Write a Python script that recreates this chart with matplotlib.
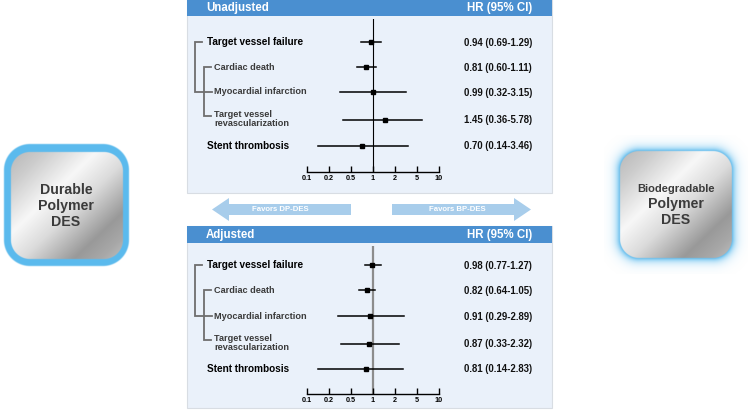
import numpy as np
import matplotlib
matplotlib.use("Agg")
import matplotlib.pyplot as plt
from matplotlib.patches import Rectangle, FancyArrow, Polygon

plt.rcParams['font.family'] = ['Liberation Sans', 'DejaVu Sans']

# ---------------- data ----------------
outcomes = ["Target vessel failure", "Cardiac death", "Myocardial infarction",
            "Target vessel\nrevascularization", "Stent thrombosis"]
unadj_hr = [0.94, 0.81, 0.99, 1.45, 0.70]
unadj_lo = [0.69, 0.60, 0.32, 0.36, 0.14]
unadj_hi = [1.29, 1.11, 3.15, 5.78, 3.46]
adj_hr = [0.98, 0.82, 0.91, 0.87, 0.81]
adj_lo = [0.77, 0.64, 0.29, 0.33, 0.14]
adj_hi = [1.27, 1.05, 2.89, 2.32, 2.83]
tick_vals = [0.1, 0.2, 0.5, 1, 2, 5, 10]
tick_labels = ["0.1", "0.2", "0.5", "1", "2", "5", "10"]
panel_titles = ["Unadjusted", "Adjusted"]
left_label = "Durable\nPolymer\nDES"
right_label = ["Biodegradable", "Polymer\nDES"]
arrow_labels = ["Favors DP-DES", "Favors BP-DES"]

W, H = 749, 411
fig = plt.figure(figsize=(W / 100, H / 100), dpi=100)
bg = fig.add_axes([0, 0, 1, 1])
bg.set_xlim(0, W)
bg.set_ylim(H, 0)
bg.axis('off')

HEADER = '#4a8fd0'
PANEL = '#eaf1fa'
EDGE = '#d8dde3'
ARROW = '#a8cdeb'

# rank-based HR axis (equal spacing between tick values, log-interp between)
logk = np.log10(tick_vals)
idx = np.arange(len(tick_vals), dtype=float)
def fwd(v):
    v = np.asarray(v, dtype=float)
    return np.interp(np.log10(np.clip(v, 1e-6, None)), logk, idx)
def inv(r):
    return 10 ** np.interp(np.asarray(r, dtype=float), idx, logk)

def panel(top, bottom, title, hr, lo, hi, row_y, axis_y, vline_color, vline_lw):
    bg.add_patch(Rectangle((187, top), 552 - 187, bottom - top, facecolor=PANEL,
                           edgecolor=EDGE, lw=0.8, zorder=1))
    bg.add_patch(Rectangle((187, top), 552 - 187, 17, facecolor=HEADER,
                           edgecolor='none', zorder=2))
    bg.text(206, top + 8.5, title, color='white', fontsize=8.3, fontweight='bold',
            va='center', ha='left', zorder=3)
    bg.text(532, top + 8.5, "HR (95% CI)", color='white', fontsize=8.3,
            fontweight='bold', va='center', ha='right', zorder=3)
    # brackets
    gc = '#6e6e6e'
    lw = 1.3
    y0, y1, y2, y3 = row_y[0], row_y[1], row_y[2], row_y[3] - 3
    bg.plot([202, 195, 195, 212], [y0, y0, y2, y2], color=gc, lw=lw, zorder=3,
            solid_joinstyle='miter')
    bg.plot([211, 204, 204, 211], [y1, y1, y3, y3], color=gc, lw=lw, zorder=3,
            solid_joinstyle='miter')
    # labels
    for i, (name, y) in enumerate(zip(outcomes, row_y)):
        main = i in (0, 4)
        x = 207 if main else 214
        col = 'black' if main else '#3a3a3a'
        fs = 7.2 if main else 6.6
        bg.text(x, y, name, fontsize=fs, fontweight='bold', color=col,
                va='center', ha='left', zorder=3, linespacing=1.05)
        bg.text(532, y + (1 if i < 4 else 0), f"{hr[i]:.2f} ({lo[i]:.2f}-{hi[i]:.2f})",
                fontsize=6.9, fontweight='bold', color='#111111',
                va='center', ha='right', zorder=3)
    # forest axes
    ax_top = top + 20
    ax = fig.add_axes([307 / W, 1 - axis_y / H, (439 - 307) / W, (axis_y - ax_top) / H])
    ax.set_xscale('function', functions=(fwd, inv))
    ax.set_xlim(0.1, 10)
    ax.set_ylim(axis_y, ax_top)
    ax.patch.set_alpha(0)
    for s in ['top', 'right', 'left']:
        ax.spines[s].set_visible(False)
    ax.spines['bottom'].set_linewidth(1.0)
    ax.set_yticks([])
    ax.set_xticks(tick_vals)
    ax.set_xticklabels(tick_labels)
    ax.xaxis.set_minor_locator(matplotlib.ticker.NullLocator())
    ax.tick_params(axis='x', direction='in', length=4, width=1.0, labelsize=5.2, pad=2)
    for t in ax.get_xticklabels():
        t.set_fontweight('bold')
    ax.axvline(1, color=vline_color, lw=vline_lw, zorder=1)
    for i, y in enumerate(row_y):
        yy = y + (1 if i == 3 else 0)
        ax.plot([lo[i], hi[i]], [yy, yy], color='black', lw=1.1, zorder=3)
        ax.plot([hr[i]], [yy], marker='s', color='black', ms=3.2, zorder=4)
    return ax

panel(-1, 193, panel_titles[0], unadj_hr, unadj_lo, unadj_hi,
      [42, 67, 92, 119, 146], 172, 'black', 0.8)
panel(226, 408, panel_titles[1], adj_hr, adj_lo, adj_hi,
      [265, 290, 316, 343, 369], 394, '#8c8c8c', 1.6)

# arrows
bg.add_patch(Polygon([[212, 209.5], [229, 198], [229, 204], [351, 204], [351, 215],
                      [229, 215], [229, 221]], closed=True, facecolor=ARROW,
                     edgecolor='none'))
bg.add_patch(Polygon([[531, 209.5], [514, 198], [514, 204], [392, 204], [392, 215],
                      [514, 215], [514, 221]], closed=True, facecolor=ARROW,
                     edgecolor='none'))
bg.text(280, 209.5, arrow_labels[0], color='white', fontsize=5.6, fontweight='bold',
        ha='center', va='center')
bg.text(457, 209.5, arrow_labels[1], color='white', fontsize=5.6, fontweight='bold',
        ha='center', va='center')

# metallic rounded boxes
def sd_rrect(X, Y, x0, y0, x1, y1, r):
    cx, cy = (x0 + x1) / 2, (y0 + y1) / 2
    bx, by = (x1 - x0) / 2 - r, (y1 - y0) / 2 - r
    qx = np.abs(X - cx) - bx
    qy = np.abs(Y - cy) - by
    outside = np.hypot(np.maximum(qx, 0), np.maximum(qy, 0))
    inside = np.minimum(np.maximum(qx, qy), 0)
    return outside + inside - r

def metal(X, Y, x0, y0, x1, y1):
    u = ((X - x0) / (x1 - x0) + (Y - y0) / (y1 - y0)) / 2
    k = [0.0, 0.15, 0.38, 0.55, 0.78, 0.9, 1.0]
    v = [0.72, 0.80, 0.97, 0.86, 0.60, 0.66, 0.75]
    g = np.interp(u, k, v)
    return g

def draw_box(ex0, ey0, ex1, ey1, gx0, gy0, gx1, gy1, glow):
    ss = 3
    xs = np.arange(ex0, ex1, 1 / ss) + 0.5 / ss
    ys = np.arange(ey0, ey1, 1 / ss) + 0.5 / ss
    X, Y = np.meshgrid(xs, ys)
    img = np.zeros(X.shape + (4,))
    blue = np.array([0.36, 0.73, 0.93])
    d_gray = sd_rrect(X, Y, gx0, gy0, gx1, gy1, 19)
    if glow:
        d = d_gray
        a = np.clip(np.exp(-np.maximum(d, 0) / 4.0), 0, 1)
        a = np.where(d < 0, 1.0, a)
        img[..., :3] = blue
        img[..., 3] = a
    else:
        d = sd_rrect(X, Y, ex0 + 1, ey0 + 1, ex1 - 1, ey1 - 1, 26)
        img[..., :3] = blue
        img[..., 3] = np.clip(0.5 - d / 1.2, 0, 1)
    g = metal(X, Y, gx0, gy0, gx1, gy1)
    ga = np.clip(0.5 - d_gray * ss / 2, 0, 1)[..., None]
    gray = np.stack([g, g, g], axis=-1)
    img[..., :3] = img[..., :3] * (1 - ga) + gray * ga
    img[..., 3] = np.maximum(img[..., 3], ga[..., 0])
    bg.imshow(img, extent=[ex0, ex1, ey1, ey0], interpolation='bilinear', zorder=2)

draw_box(3, 143, 130, 267, 11, 152, 123, 259, glow=False)
draw_box(604, 135, 748, 274, 620, 151, 732, 258, glow=True)
bg.set_xlim(0, W)
bg.set_ylim(H, 0)
bg.set_aspect('auto')

bg.text(66, 206, left_label, color='#3b3b3b', fontsize=10.2, fontweight='bold',
        ha='center', va='center', linespacing=1.15, zorder=4)
bg.text(676, 189, right_label[0], color='#3b3b3b', fontsize=8.0, fontweight='bold',
        ha='center', va='center', zorder=4)
bg.text(676, 212, right_label[1], color='#3b3b3b', fontsize=10.2, fontweight='bold',
        ha='center', va='center', linespacing=1.15, zorder=4)

fig.savefig("out.png", dpi=100)
